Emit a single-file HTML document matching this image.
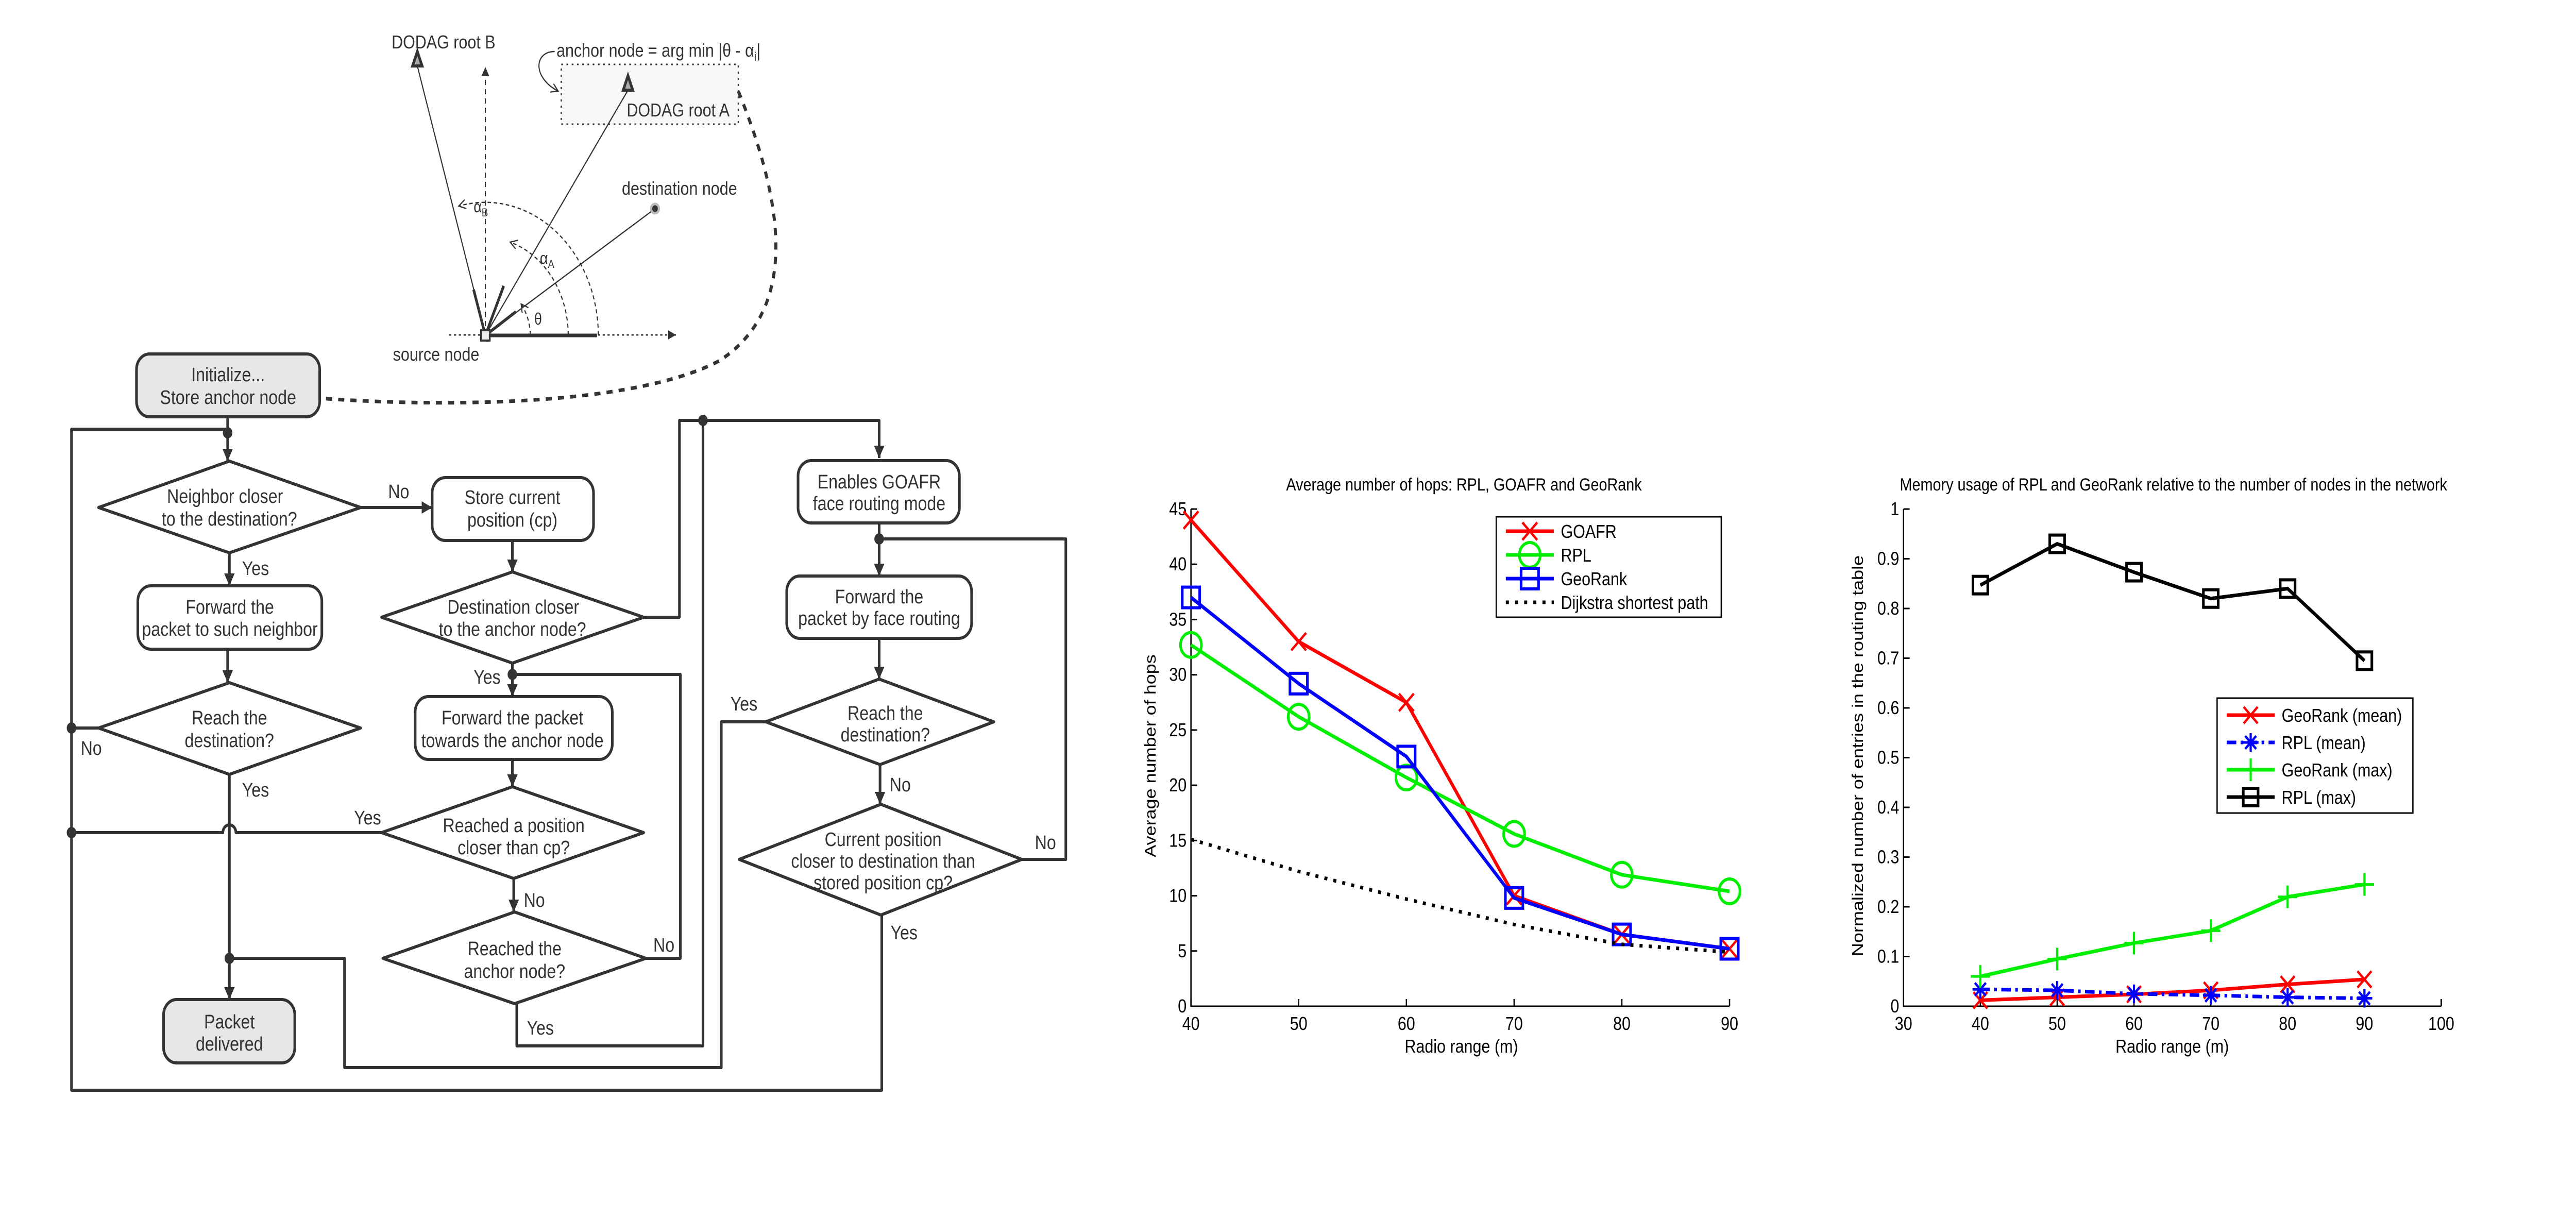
<!DOCTYPE html>
<html><head><meta charset="utf-8"><style>
html,body{margin:0;padding:0;background:#fff;width:100%;height:100%;overflow:hidden;}
svg{display:block;width:100vw;height:100vh;}
text{font-family:"Liberation Sans",Arial,sans-serif;}
</style></head><body>
<svg id="root" viewBox="0 0 5907 2364" preserveAspectRatio="none" xmlns="http://www.w3.org/2000/svg">
<defs>
<marker id="ah" markerUnits="userSpaceOnUse" markerWidth="30" markerHeight="30" refX="24" refY="12" orient="auto"><path d="M0,0 L24,12 L0,24 z" fill="#333"/></marker>
<marker id="ahs" markerUnits="userSpaceOnUse" markerWidth="24" markerHeight="24" refX="18" refY="9" orient="auto"><path d="M0,0 L18,9 L0,18 z" fill="#333"/></marker>
<marker id="aho" markerUnits="userSpaceOnUse" markerWidth="24" markerHeight="24" refX="16" refY="9" orient="auto"><path d="M0,0 L16,9 L0,18" fill="none" stroke="#333" stroke-width="2.5"/></marker>
</defs>

<g stroke="#333" fill="none">
  <rect x="1287" y="125" width="406" height="116" fill="#f6f7f9" stroke="#333" stroke-width="3" stroke-dasharray="4,8"/>
  <line x1="1113" y1="651" x2="1113" y2="130" stroke-width="2.5" stroke-dasharray="10,8" marker-end="url(#ahs)"/>
  <line x1="1030" y1="650" x2="1550" y2="650" stroke-width="3" stroke-dasharray="5,6" marker-end="url(#ahs)"/>
  <line x1="1113" y1="651" x2="1369" y2="651" stroke-width="7"/>
  <line x1="1113" y1="651" x2="957" y2="128" stroke-width="2.5"/>
  <line x1="1113" y1="651" x2="1086" y2="562" stroke-width="6"/>
  <line x1="1113" y1="651" x2="1440" y2="175" stroke-width="2.5"/>
  <line x1="1113" y1="651" x2="1155" y2="555" stroke-width="6"/>
  <line x1="1113" y1="651" x2="1502" y2="405" stroke-width="2.5"/>
  <line x1="1113" y1="651" x2="1183" y2="605" stroke-width="6"/>
  <path d="M1216,650 A103,103 0 0 0 1195,590" stroke-width="2.5" stroke-dasharray="8,6" marker-end="url(#aho)"/>
  <path d="M1303,650 A190,190 0 0 0 1170,470" stroke-width="2.5" stroke-dasharray="8,6" marker-end="url(#aho)"/>
  <path d="M1372,650 A259,259 0 0 0 1052,400" stroke-width="2.5" stroke-dasharray="8,6" marker-end="url(#aho)"/>
  <path d="M946,128 L957,100 L968,128 z" fill="#aaa" stroke-width="6"/>
  <path d="M1429,175 L1440,147 L1451,175 z" fill="#aaa" stroke-width="6"/>
  <circle cx="1502" cy="405" r="9" fill="#333" stroke="#bbb" stroke-width="5"/>
  <rect x="1103" y="641" width="20" height="20" fill="#eee" stroke-width="4"/>
  <path d="M1272,100 C1225,100 1220,150 1280,177" stroke-width="2.5" marker-end="url(#aho)"/>
  <path d="M1693,177 C1800,400 1830,600 1650,700 C1450,790 1000,790 735,773" stroke-width="7" stroke-dasharray="14,14"/>
  <path d="M697,773 L722,761 L722,785 z" fill="#333" stroke="none"/>
</g>
<g fill="#333" font-size="36">
  <text x="898" y="94">DODAG root B</text>
  <text x="1276" y="110">anchor node = arg min |θ - α<tspan font-size="24" dy="8">i</tspan><tspan dy="-8">|</tspan></text>
  <text x="1437" y="226">DODAG root A</text>
  <text x="1426" y="378">destination node</text>
  <text x="901" y="700">source node</text>
  <text x="1086" y="412" font-size="32">α<tspan font-size="22" dy="8">B</tspan></text>
  <text x="1238" y="512" font-size="32">α<tspan font-size="22" dy="8">A</tspan></text>
  <text x="1225" y="630" font-size="32">θ</text>
</g>

<g stroke="#333" stroke-width="6" fill="none" stroke-linejoin="round">
  <path d="M522,809 V895" marker-end="url(#ah)"/>
  <path d="M827,985 H991" marker-end="url(#ah)"/>
  <path d="M1175,1049 V1110" marker-end="url(#ah)"/>
  <path d="M1175,1287 V1352" marker-end="url(#ah)"/>
  <path d="M1175,1474 V1527" marker-end="url(#ah)"/>
  <path d="M1178,1705 V1770" marker-end="url(#ah)"/>
  <path d="M526,1073 V1137" marker-end="url(#ah)"/>
  <path d="M522,1260 V1325" marker-end="url(#ah)"/>
  <path d="M526,1503 V1940" marker-end="url(#ah)"/>
  <path d="M1476,1198 H1558 V816 H2016 V889" marker-end="url(#ah)"/>
  <path d="M1481,1860 H1560 V1309 H1175"/>
  <path d="M1185,1948 V2030 H1612 V816"/>
  <path d="M875,1616 H541 A15,15 0 0 0 511,1616 H164"/>
  <path d="M226,1413 H164"/>
  <path d="M2022,1776 V2116 H164 V833 H522"/>
  <path d="M1756,1401 H1654 V2072 H790 V1860 H526"/>
  <path d="M2016,1015 V1118" marker-end="url(#ah)"/>
  <path d="M2343,1668 H2444 V1046 H2016"/>
  <path d="M2016,1239 V1318" marker-end="url(#ah)"/>
  <path d="M2018,1484 V1561" marker-end="url(#ah)"/>
  <g fill="#333" stroke="none">
    <circle cx="522" cy="840" r="11"/><circle cx="164" cy="1413" r="11"/><circle cx="164" cy="1616" r="11"/>
    <circle cx="526" cy="1860" r="11"/><circle cx="1175" cy="1309" r="11"/><circle cx="1612" cy="816" r="11"/>
    <circle cx="2016" cy="1046" r="11"/>
  </g>
  <rect x="313" y="687" width="420" height="122" rx="30" fill="#e6e7e9"/>
  <polygon points="226,985 526,895 827,985 526,1073" fill="#fff"/>
  <rect x="991" y="927" width="370" height="122" rx="30" fill="#fff"/>
  <polygon points="875,1198 1175,1110 1476,1198 1175,1287" fill="#fff"/>
  <rect x="316" y="1137" width="422" height="123" rx="30" fill="#fff"/>
  <polygon points="226,1413 526,1325 827,1413 526,1503" fill="#fff"/>
  <rect x="952" y="1352" width="452" height="122" rx="30" fill="#fff"/>
  <polygon points="875,1616 1175,1527 1476,1616 1178,1705" fill="#fff"/>
  <polygon points="878,1860 1180,1770 1481,1860 1180,1948" fill="#fff"/>
  <rect x="375" y="1940" width="301" height="123" rx="30" fill="#e6e7e9"/>
  <rect x="1830" y="894" width="370" height="121" rx="30" fill="#fff"/>
  <rect x="1804" y="1118" width="424" height="121" rx="30" fill="#fff"/>
  <polygon points="1756,1401 2016,1318 2279,1401 2018,1484" fill="#fff"/>
  <polygon points="1695,1668 2020,1561 2343,1668 2020,1776" fill="#fff"/>
</g>
<g fill="#333" font-size="38" text-anchor="middle">
  <text x="523" y="740">Initialize...</text><text x="523" y="784">Store anchor node</text>
  <text x="516" y="976">Neighbor closer</text><text x="526" y="1020">to the destination?</text>
  <text x="1175" y="978">Store current</text><text x="1175" y="1022">position (cp)</text>
  <text x="1177" y="1191">Destination closer</text><text x="1175" y="1234">to the anchor node?</text>
  <text x="527" y="1191">Forward the</text><text x="527" y="1234">packet to such neighbor</text>
  <text x="526" y="1406">Reach the</text><text x="526" y="1450">destination?</text>
  <text x="1175" y="1406">Forward the packet</text><text x="1175" y="1450">towards the anchor node</text>
  <text x="1178" y="1615">Reached a position</text><text x="1178" y="1658">closer than cp?</text>
  <text x="1180" y="1854">Reached the</text><text x="1180" y="1898">anchor node?</text>
  <text x="526" y="1996">Packet</text><text x="526" y="2039">delivered</text>
  <text x="2016" y="948">Enables GOAFR</text><text x="2016" y="990">face routing mode</text>
  <text x="2016" y="1171">Forward the</text><text x="2016" y="1213">packet by face routing</text>
  <text x="2030" y="1397">Reach the</text><text x="2030" y="1439">destination?</text>
  <text x="2025" y="1642">Current position</text><text x="2025" y="1684">closer to destination than</text><text x="2025" y="1726">stored position cp?</text>
  <g text-anchor="start">
    <text x="890" y="967">No</text><text x="555" y="1116">Yes</text><text x="1086" y="1327">Yes</text>
    <text x="185" y="1465">No</text><text x="555" y="1546">Yes</text><text x="812" y="1600">Yes</text>
    <text x="1201" y="1760">No</text><text x="1498" y="1847">No</text><text x="1208" y="2008">Yes</text>
    <text x="1675" y="1379">Yes</text><text x="2040" y="1536">No</text><text x="2373" y="1648">No</text><text x="2042" y="1823">Yes</text>
  </g>
</g>

<g id="chart1"></g>
<g id="chart2"></g>
</svg>
<script>
const hopX = [40, 50, 60, 70, 80, 90];
const goafrHops = [44, 33, 27.5, 10, 6.5, 5.2];
const rplHops = [32.7, 26.2, 20.7, 15.6, 11.9, 10.4];
const geoRankHops = [37, 29.2, 22.6, 9.8, 6.5, 5.2];
const dijkstraHops = [15.1, 12.2, 9.7, 7.4, 5.6, 4.9];
const hopYTicks = [0, 5, 10, 15, 20, 25, 30, 35, 40, 45];
const hopXTicks = [40, 50, 60, 70, 80, 90];
const memX = [40, 50, 60, 70, 80, 90];
const geoRankMean = [0.012, 0.018, 0.024, 0.032, 0.044, 0.054];
const rplMean = [0.034, 0.032, 0.025, 0.022, 0.018, 0.016];
const geoRankMax = [0.06, 0.095, 0.127, 0.152, 0.22, 0.245];
const rplMax = [0.847, 0.93, 0.873, 0.82, 0.84, 0.695];
const memYTicks = [0, 0.1, 0.2, 0.3, 0.4, 0.5, 0.6, 0.7, 0.8, 0.9, 1];
const memXTicks = [30, 40, 50, 60, 70, 80, 90, 100];

const NS = 'http://www.w3.org/2000/svg';
function mk(parent, tag, attrs, txt) {
  const e = document.createElementNS(NS, tag);
  for (const k in attrs) e.setAttribute(k, attrs[k]);
  if (txt !== undefined) e.textContent = txt;
  parent.appendChild(e);
  return e;
}
function marker(g, type, cx, cy, color, s) {
  let e;
  if (type === 'x') e = mk(g, 'path', {d:`M${cx-s},${cy-s}L${cx+s},${cy+s}M${cx-s},${cy+s}L${cx+s},${cy-s}`, stroke:color, 'stroke-width':5, fill:'none'});
  else if (type === 'o') e = mk(g, 'circle', {cx:cx, cy:cy, r:s, stroke:color, 'stroke-width':6, fill:'none'});
  else if (type === 's') e = mk(g, 'rect', {x:cx-s, y:cy-s, width:2*s, height:2*s, stroke:color, 'stroke-width':6, fill:'none'});
  else if (type === '+') e = mk(g, 'path', {d:`M${cx-s},${cy}L${cx+s},${cy}M${cx},${cy-s}L${cx},${cy+s}`, stroke:color, 'stroke-width':5, fill:'none'});
  else if (type === '*') e = mk(g, 'path', {d:`M${cx-s},${cy}L${cx+s},${cy}M${cx},${cy-s}L${cx},${cy+s}M${cx-s*0.7},${cy-s*0.7}L${cx+s*0.7},${cy+s*0.7}M${cx-s*0.7},${cy+s*0.7}L${cx+s*0.7},${cy-s*0.7}`, stroke:color, 'stroke-width':5, fill:'none'});
  
  
  return e;
}
function drawChart(g, o) {
  const X = v => o.x0 + (v - o.xmin) / (o.xmax - o.xmin) * (o.x1 - o.x0);
  const Y = v => o.y0 - (v - o.ymin) / (o.ymax - o.ymin) * (o.y0 - o.y1);
  const ax = mk(g, 'path', {d:`M${o.x0},${o.y1}V${o.y0}H${o.x1}`, stroke:'#000', 'stroke-width':3, fill:'none'});
  
  
  o.yt.forEach(v => {
    mk(g, 'line', {x1:o.x0, x2:o.x0+14, y1:Y(v), y2:Y(v), stroke:'#000', 'stroke-width':3});
    const t = mk(g, 'text', {x:o.x0-10, y:Y(v)+12, 'text-anchor':'end', 'font-size':36}, o.yfmt(v));
    
    
  });
  o.xt.forEach(v => {
    mk(g, 'line', {x1:X(v), x2:X(v), y1:o.y0, y2:o.y0-14, stroke:'#000', 'stroke-width':3});
    const t = mk(g, 'text', {x:X(v), y:o.y0+46, 'text-anchor':'middle', 'font-size':36}, String(v));
    
    
  });
  const title = mk(g, 'text', {x:o.tx, y:o.ty, 'text-anchor':'middle', 'font-size':34}, o.title);
  
  
  const xl = mk(g, 'text', {x:o.xlx, y:2043, 'text-anchor':'middle', 'font-size':36}, 'Radio range (m)');
  
  
  const yl = mk(g, 'text', {x:0, y:0, 'text-anchor':'middle', 'font-size':36, transform:`translate(${o.ylx},1467) rotate(-90)`}, o.ylabel);
  
  
  o.series.forEach(s => {
    const sg = mk(g, 'g', {});
    
    
    const pts = o.xs.map((xv, i) => `${X(xv)},${Y(s.v[i])}`).join(' ');
    mk(sg, 'polyline', {points:pts, fill:'none', stroke:s.c, 'stroke-width':s.w, 'stroke-dasharray':s.dash||'none'});
    if (s.m) o.xs.forEach((xv, i) => marker(sg, s.m, X(xv), Y(s.v[i]), s.c, s.ms));
  });
  const lg = mk(g, 'g', {});
  
  
  mk(lg, 'rect', {x:o.lx, y:o.ly, width:o.lw, height:o.lh, fill:'#fff', stroke:'#000', 'stroke-width':3});
  o.series.forEach((s, i) => {
    const eg = mk(lg, 'g', {});
    
    
    const yy = o.ly + o.lfirst + i * o.lstep;
    mk(eg, 'line', {x1:o.lx+22, x2:o.lx+132, y1:yy, y2:yy, stroke:s.c, 'stroke-width':s.w, 'stroke-dasharray':s.dash||'none'});
    if (s.m) marker(eg, s.m, o.lx+77, yy, s.c, s.ms);
    mk(eg, 'text', {x:o.lx+148, y:yy+13, 'font-size':36}, s.name);
  });
}
drawChart(document.getElementById('chart1'), {
  x0:2731, x1:3966, y0:1953, y1:988, xmin:40, xmax:90, ymin:0, ymax:45,
  xs:hopX, xt:hopXTicks, yt:hopYTicks, yfmt:v=>String(v),
  title:'Average number of hops: RPL, GOAFR and GeoRank', tx:3357, ty:952,
  xlx:3351, ylx:2650, ylabel:'Average number of hops',
  lx:3431, ly:1003, lw:516, lh:195, lfirst:28, lstep:46,
  series:[
    {id:'goafr-series', name:'GOAFR', v:goafrHops, c:'#ff0000', w:7, m:'x', ms:17},
    {id:'rpl-series', name:'RPL', v:rplHops, c:'#00ee00', w:7, m:'o', ms:24},
    {id:'georank-series', name:'GeoRank', v:geoRankHops, c:'#0000ff', w:7, m:'s', ms:20},
    {id:'dijkstra-series', name:'Dijkstra shortest path', v:dijkstraHops, c:'#000', w:7, dash:'7,14'}
  ]
});
drawChart(document.getElementById('chart2'), {
  x0:4365, x1:5598, y0:1953, y1:988, xmin:30, xmax:100, ymin:0, ymax:1,
  xs:memX, xt:memXTicks, yt:memYTicks, yfmt:v=>v===0?'0':(v===1?'1':v.toFixed(1)),
  title:'Memory usage of RPL and GeoRank relative to the number of nodes in the network', tx:4984, ty:952,
  xlx:4981, ylx:4272, ylabel:'Normalized number of entries in the routing table',
  lx:5084, ly:1355, lw:449, lh:223, lfirst:33, lstep:53,
  series:[
    {id:'georank-mean-series', name:'GeoRank (mean)', v:geoRankMean, c:'#ff0000', w:7, m:'x', ms:16},
    {id:'rpl-mean-series', name:'RPL (mean)', v:rplMean, c:'#0000ff', w:7, m:'*', ms:18, dash:'22,10,6,10'},
    {id:'georank-max-series', name:'GeoRank (max)', v:geoRankMax, c:'#00ee00', w:7, m:'+', ms:22},
    {id:'rpl-max-series', name:'RPL (max)', v:rplMax, c:'#000', w:7, m:'s', ms:17}
  ]
});
const rt = mk(document.getElementById('chart2'), 'line', {x1:5598, x2:5598, y1:1953, y2:1939, stroke:'#000', 'stroke-width':3});


</script>
</body></html>
